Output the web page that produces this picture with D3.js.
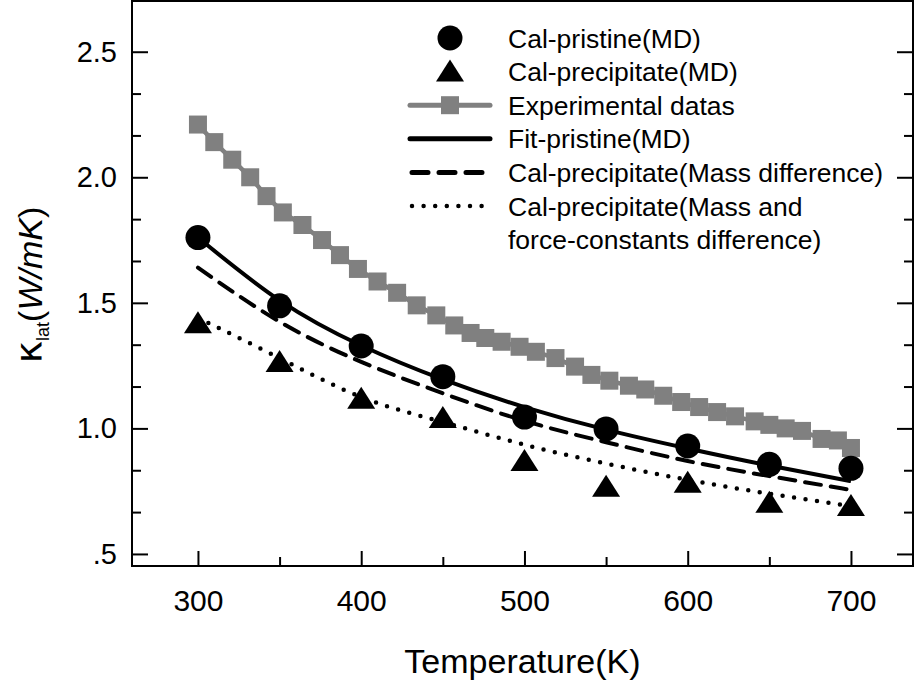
<!DOCTYPE html>
<html>
<head>
<meta charset="utf-8">
<script src="https://cdn.jsdelivr.net/npm/d3@7"></script>
<style>
  html, body { margin: 0; padding: 0; background: #fff; }
  svg { display: block; font-family: "Liberation Sans", Arial, sans-serif; }
</style>
</head>
<body>
<svg id="chart" width="914" height="687"></svg>
<script>
// MD temperatures (K)
const tempMD = [300, 350, 400, 450, 500, 550, 600, 650, 700];
const pristineMD = [1.76, 1.488, 1.328, 1.206, 1.045, 0.998, 0.93, 0.857, 0.841];
const precipMD = [1.418, 1.264, 1.118, 1.041, 0.87, 0.767, 0.783, 0.703, 0.691];

// curves at the MD temperatures
const fitPristine = [1.76, 1.51, 1.33, 1.195, 1.085, 0.995, 0.92, 0.852, 0.79];
const massDiff = [1.64, 1.425, 1.265, 1.14, 1.03, 0.945, 0.87, 0.81, 0.755];
const massForceDiff = [1.44, 1.28, 1.125, 1.025, 0.935, 0.86, 0.795, 0.74, 0.69];

// experimental data
const expT = [300, 310, 321, 332, 342, 352, 364, 376, 387, 398, 410, 422, 434, 446, 457, 467, 476, 486, 497,
  507, 519, 531, 541, 552, 564, 574, 585, 596, 607, 618, 629, 641, 650, 660, 670, 682, 692, 700];
const expK = [2.21, 2.14, 2.07, 2.0, 1.925, 1.86, 1.81, 1.75, 1.69, 1.635, 1.585, 1.54, 1.49, 1.45, 1.41, 1.38,
  1.36, 1.345, 1.325, 1.305, 1.28, 1.246, 1.213, 1.19, 1.17, 1.155, 1.13, 1.105, 1.085, 1.065, 1.048, 1.028,
  1.014, 1.0, 0.99, 0.958, 0.952, 0.922];

const xMajor = [300, 400, 500, 600, 700];
const xMinor = [350, 450, 550, 650];
const yMajor = [0.5, 1.0, 1.5, 2.0, 2.5];
const yMinor = d3.range(0, 13).map((i) => 0.5 + i / 6).filter((v) => !yMajor.some((m) => Math.abs(m - v) < 1e-6));

const legendItems = [
  { label: ["Cal-pristine(MD)"], kind: "circle" },
  { label: ["Cal-precipitate(MD)"], kind: "triangle" },
  { label: ["Experimental datas"], kind: "exp" },
  { label: ["Fit-pristine(MD)"], kind: "solid" },
  { label: ["Cal-precipitate(Mass difference)"], kind: "dashed" },
  { label: ["Cal-precipitate(Mass and", "force-constants difference)"], kind: "dotted" },
];

const W = 914, H = 687;
const plot = { left: 132, right: 913, top: 1, bottom: 566 };
const gray = "#808080";

const svg = d3.select("#chart");
svg.append("rect").attr("width", W).attr("height", H).attr("fill", "#fff");

const x = d3.scaleLinear().domain([259.6, 738]).range([plot.left, plot.right]);
const y = d3.scaleLinear().domain([0.452, 2.702]).range([plot.bottom, plot.top]);

// axes (ticks pointing inward)
const axisStyle = (g) => {
  g.select(".domain").remove();
  g.selectAll(".tick line").attr("stroke", "#000").attr("stroke-width", 2);
  g.selectAll(".tick text").attr("fill", "#000");
};
const fmtY = (d) => (d === 0.5 ? ".5" : d3.format(".1f")(d));

svg.append("g").attr("transform", `translate(${plot.left},0)`)
  .call(d3.axisLeft(y).tickValues(yMajor).tickSize(-16).tickPadding(15).tickFormat(fmtY))
  .call(axisStyle)
  .selectAll("text").attr("font-size", 29);
svg.append("g").attr("transform", `translate(${plot.left},0)`)
  .call(d3.axisLeft(y).tickValues(yMinor).tickSize(-9).tickFormat(""))
  .call(axisStyle);
svg.append("g").attr("transform", `translate(${plot.right},0)`)
  .call(d3.axisRight(y).tickValues(yMajor).tickSize(-16).tickFormat(""))
  .call(axisStyle);
svg.append("g").attr("transform", `translate(${plot.right},0)`)
  .call(d3.axisRight(y).tickValues(yMinor).tickSize(-9).tickFormat(""))
  .call(axisStyle);

svg.append("g").attr("transform", `translate(0,${plot.bottom})`)
  .call(d3.axisBottom(x).tickValues(xMajor).tickSize(-15).tickPadding(24).tickFormat(d3.format("d")))
  .call(axisStyle)
  .selectAll("text").attr("font-size", 30).attr("dy", "0.71em");
svg.append("g").attr("transform", `translate(0,${plot.bottom})`)
  .call(d3.axisBottom(x).tickValues(xMinor).tickSize(-9).tickFormat(""))
  .call(axisStyle);

svg.append("rect")
  .attr("x", plot.left).attr("y", plot.top)
  .attr("width", plot.right - plot.left).attr("height", plot.bottom - plot.top)
  .attr("fill", "none").attr("stroke", "#000").attr("stroke-width", 2);

// axis titles
svg.append("text")
  .attr("x", (x(300) + x(700)) / 2 - 2).attr("y", 673)
  .attr("text-anchor", "middle").attr("font-size", 34)
  .text("Temperature(K)");

const yt = svg.append("text")
  .attr("transform", `translate(42,${285}) rotate(-90)`)
  .attr("text-anchor", "middle").attr("font-size", 34);
yt.append("tspan").attr("font-family", "DejaVu Sans").attr("font-size", 38).text("κ");
yt.append("tspan").attr("font-size", 18).attr("dy", 7).text("lat");
yt.append("tspan").attr("dy", -7).text("(");
yt.append("tspan").attr("font-style", "italic").text("W/mK");
yt.append("tspan").text(")");

// lines
const line = (xs, ys, curve) => d3.line().curve(curve)
  .x((d, i) => x(xs[i])).y((d) => y(d))(ys);

const lines = svg.append("g").attr("fill", "none").attr("stroke", "#000");
lines.append("path").attr("d", line(expT, expK, d3.curveLinear))
  .attr("stroke", gray).attr("stroke-width", 4.5);
lines.append("path").attr("d", line(tempMD, fitPristine, d3.curveNatural))
  .attr("stroke-width", 4);
lines.append("path").attr("d", line(tempMD, massDiff, d3.curveNatural))
  .attr("stroke-width", 4).attr("stroke-dasharray", "16,10").attr("stroke-linecap", "round");
lines.append("path").attr("d", line(tempMD, massForceDiff, d3.curveNatural))
  .attr("stroke-width", 4.5).attr("stroke-dasharray", "0,11.6").attr("stroke-linecap", "round");

// markers
const triPath = (w, h) => `M0,${-h * 0.55}L${w / 2},${h * 0.45}L${-w / 2},${h * 0.45}Z`;
const sq = 18;

svg.append("g").selectAll("rect").data(expK).join("rect")
  .attr("x", (d, i) => x(expT[i]) - sq / 2).attr("y", (d) => y(d) - sq / 2)
  .attr("width", sq).attr("height", sq).attr("fill", gray);

svg.append("g").selectAll("circle").data(pristineMD).join("circle")
  .attr("cx", (d, i) => x(tempMD[i])).attr("cy", (d) => y(d)).attr("r", 12.5).attr("fill", "#000");

svg.append("g").selectAll("path").data(precipMD).join("path")
  .attr("transform", (d, i) => `translate(${x(tempMD[i])},${y(d)})`)
  .attr("d", triPath(28, 22)).attr("fill", "#000");

// legend
const lg = svg.append("g").attr("transform", "translate(410,38)");
const rowH = 33.6;
const rows = lg.selectAll("g").data(legendItems).join("g")
  .attr("transform", (d, i) => `translate(0,${i * rowH})`);

rows.each(function (d) {
  const g = d3.select(this);
  if (d.kind === "circle") g.append("circle").attr("cx", 40).attr("r", 12.5).attr("fill", "#000");
  if (d.kind === "triangle") g.append("path").attr("transform", "translate(40,0)").attr("d", triPath(28, 22)).attr("fill", "#000");
  if (d.kind === "exp") {
    g.append("line").attr("x1", 0).attr("x2", 80).attr("stroke", gray).attr("stroke-width", 5).attr("stroke-linecap", "round");
    g.append("rect").attr("x", 40 - sq / 2).attr("y", -sq / 2).attr("width", sq).attr("height", sq).attr("fill", gray);
  }
  if (d.kind === "solid") g.append("line").attr("x1", 0).attr("x2", 80).attr("stroke", "#000").attr("stroke-width", 5).attr("stroke-linecap", "round");
  if (d.kind === "dashed") g.append("line").attr("x1", 2).attr("x2", 76).attr("stroke", "#000").attr("stroke-width", 5)
    .attr("stroke-dasharray", "16,11").attr("stroke-linecap", "round");
  if (d.kind === "dotted") g.append("line").attr("x1", 2).attr("x2", 80).attr("stroke", "#000").attr("stroke-width", 4.5)
    .attr("stroke-dasharray", "0,11.6").attr("stroke-linecap", "round");
  g.selectAll("text").data(d.label).join("text")
    .attr("x", 98).attr("y", (t, j) => j * rowH).attr("dy", "0.36em")
    .attr("font-size", 26.5).text((t) => t);
});
</script>
</body>
</html>
